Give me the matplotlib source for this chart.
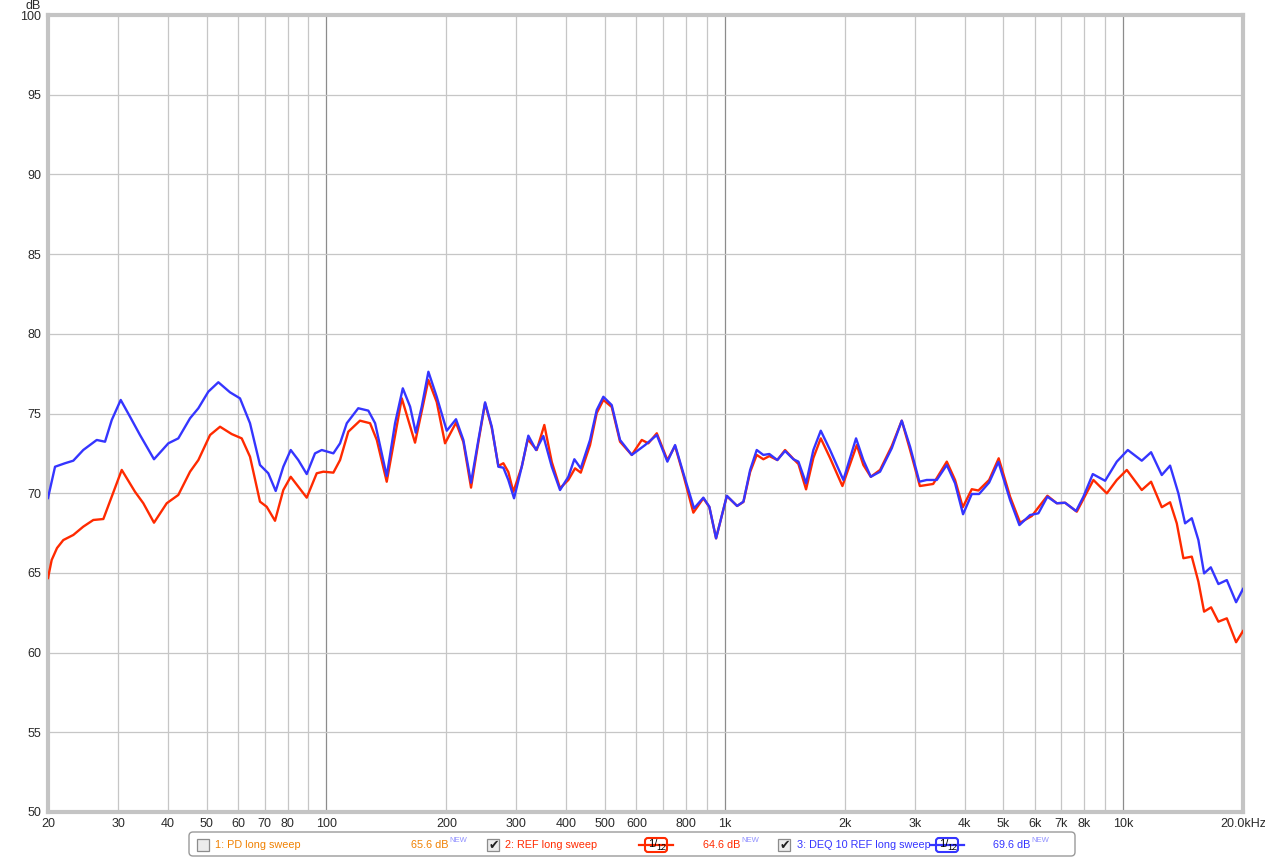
import matplotlib
matplotlib.use("Agg")
import matplotlib.pyplot as plt
from matplotlib.patches import FancyBboxPatch, Rectangle
from matplotlib.ticker import NullLocator

# REW style frequency response, 1/12 octave smoothing
# measurement 1 (PD) is hidden, only 2 and 3 drawn

ref_freq = [20, 20.43, 21.07, 21.85, 23.15, 24.52, 25.99, 27.54, 28.91, 30.63,
            33.07, 34.70, 36.91, 39.73, 42.48, 45.46, 47.70, 51.03, 54.07, 57.84,
            61.28, 64.29, 68.11, 70.80, 74.29, 77.94, 81.35, 85.00, 89.24, 94.55,
            98.23, 104.1, 108.2, 113.5, 121.4, 128.7, 133.8, 141.7, 154.6, 166.9,
            180.3, 189.2, 198.5, 211.5, 220.7, 230.7, 240.7, 250.2, 260.1, 270.2,
            278.1, 286.2, 294.6, 309.3, 320.2, 337.3, 352.4, 367.9, 385.9, 404.9,
            420.9, 435.0, 459.0, 477.1, 495.7, 520.3, 545.9, 584.2, 618.9, 642.9,
            675.1, 717.7, 750.4, 787.3, 834.0, 883.6, 914.8, 951.0, 1012, 1074,
            1114, 1158, 1203, 1250, 1294, 1355, 1417, 1487, 1531, 1600,
            1669, 1742, 1838, 1974, 2145, 2228, 2326, 2454, 2626, 2782,
            2919, 3089, 3336, 3609, 3786, 3959, 4170, 4333, 4610, 4872,
            5204, 5514, 5900, 6456, 6817, 7151, 7652, 8423, 9102, 9643,
            10217, 11140, 11756, 12506, 13121, 13639, 14170, 14875, 15454, 15972,
            16631, 17349, 18212, 19218, 20000]
ref_db = [64.68, 65.81, 66.56, 67.06, 67.38, 67.90, 68.32, 68.38, 69.78, 71.46,
          70.09, 69.37, 68.15, 69.37, 69.89, 71.35, 72.08, 73.65, 74.17, 73.71,
          73.44, 72.29, 69.47, 69.15, 68.27, 70.20, 71.03, 70.41, 69.72, 71.25,
          71.35, 71.29, 72.08, 73.86, 74.55, 74.39, 73.34, 70.72, 75.95, 73.17,
          77.10, 75.72, 73.13, 74.42, 73.21, 70.35, 73.21, 75.64, 74.09, 71.71,
          71.88, 71.33, 70.09, 71.66, 73.38, 72.71, 74.28, 71.96, 70.31, 70.83,
          71.56, 71.29, 73.02, 75.03, 75.85, 75.41, 73.23, 72.40, 73.34, 73.13,
          73.76, 72.08, 72.96, 71.14, 68.78, 69.68, 69.13, 67.17, 69.82, 69.20,
          69.45, 71.33, 72.40, 72.13, 72.33, 72.08, 72.71, 72.15, 71.83, 70.24,
          72.21, 73.44, 72.21, 70.45, 73.02, 71.77, 71.03, 71.46, 72.96, 74.55,
          72.71, 70.45, 70.58, 71.98, 70.83, 69.12, 70.25, 70.17, 70.83, 72.19,
          69.78, 68.15, 68.57, 69.84, 69.37, 69.40, 68.84, 70.83, 69.99, 70.83,
          71.46, 70.20, 70.72, 69.12, 69.43, 68.11, 65.92, 66.02, 64.45, 62.57,
          62.84, 61.94, 62.15, 60.65, 61.35]

deq_freq = [20, 20.83, 22.07, 23.15, 24.52, 26.51, 27.81, 28.91, 30.45, 32.13,
            34.04, 36.91, 40.10, 42.48, 45.46, 47.70, 50.53, 53.54, 57.27, 60.68,
            64.29, 68.11, 71.46, 74.59, 77.94, 81.35, 85.00, 89.24, 93.62, 97.32,
            104.1, 108.2, 112.5, 120.2, 127.4, 132.5, 141.7, 148.7, 155.5, 162.2,
            167.6, 173.5, 180.3, 189.2, 200.5, 211.5, 220.7, 230.7, 240.7, 250.2,
            260.1, 270.2, 278.1, 286.2, 295.8, 309.3, 321.3, 335.9, 350.4, 367.9,
            385.9, 404.9, 419.2, 435.0, 459.0, 477.1, 495.7, 520.3, 545.9, 584.2,
            630.8, 675.1, 717.7, 750.4, 787.3, 837.4, 883.6, 914.8, 951.0, 1012,
            1074, 1114, 1158, 1203, 1250, 1294, 1355, 1417, 1487, 1531,
            1600, 1669, 1742, 1838, 1985, 2136, 2228, 2326, 2454, 2626,
            2782, 2919, 3080, 3214, 3406, 3609, 3786, 3965, 4170, 4350,
            4610, 4864, 5204, 5491, 5842, 6129, 6456, 6817, 7151, 7621,
            7950, 8393, 9012, 9643, 10276, 11140, 11756, 12506, 13121, 13766,
            14310, 14875, 15454, 15972, 16603, 17349, 18212, 19218, 20000]
deq_db = [69.70, 71.66, 71.88, 72.04, 72.71, 73.34, 73.23, 74.59, 75.85, 74.80,
          73.65, 72.13, 73.13, 73.44, 74.70, 75.33, 76.37, 76.96, 76.33, 75.95,
          74.39, 71.77, 71.25, 70.14, 71.66, 72.71, 72.08, 71.20, 72.50, 72.71,
          72.50, 73.13, 74.39, 75.33, 75.18, 74.39, 71.08, 74.39, 76.58, 75.43,
          73.80, 75.43, 77.62, 76.05, 73.92, 74.64, 73.34, 70.66, 73.34, 75.70,
          74.17, 71.66, 71.60, 70.83, 69.68, 71.66, 73.61, 72.71, 73.59, 71.66,
          70.20, 71.03, 72.13, 71.56, 73.34, 75.22, 76.05, 75.53, 73.34, 72.40,
          73.02, 73.65, 71.98, 73.02, 71.25, 69.05, 69.72, 69.15, 67.17, 69.84,
          69.20, 69.47, 71.46, 72.71, 72.40, 72.46, 72.08, 72.65, 72.13, 71.98,
          70.62, 72.71, 73.92, 72.71, 70.83, 73.44, 72.08, 71.03, 71.35, 72.82,
          74.55, 72.92, 70.72, 70.83, 70.83, 71.77, 70.62, 68.68, 69.95, 69.95,
          70.67, 71.96, 69.57, 68.00, 68.63, 68.74, 69.78, 69.37, 69.40, 68.88,
          69.78, 71.20, 70.78, 71.98, 72.71, 72.04, 72.57, 71.14, 71.73, 69.99,
          68.11, 68.43, 67.06, 64.97, 65.35, 64.30, 64.55, 63.16, 63.99]

grid_freqs = [20, 30, 40, 50, 60, 70, 80, 90,
              100, 200, 300, 400, 500, 600, 700, 800, 900,
              1000, 2000, 3000, 4000, 5000, 6000, 7000, 8000, 9000,
              10000, 20000]
x_labels = ["20", "30", "40", "50", "60", "70", "80", "",
            "100", "200", "300", "400", "500", "600", "", "800", "",
            "1k", "2k", "3k", "4k", "5k", "6k", "7k", "8k", "",
            "10k", "20.0kHz"]
decades = [100, 1000, 10000]
db_ticks = [50, 55, 60, 65, 70, 75, 80, 85, 90, 95, 100]

legend_names = ["1: PD long sweep", "2: REF long sweep", "3: DEQ 10 REF long sweep"]
legend_levels = ["65.6 dB", "64.6 dB", "69.6 dB"]
legend_checked = [False, True, True]

RED = "#ff2a00"
BLUE = "#3535ff"
ORANGE = "#f08000"

W, H = 1265, 859
plt.rcParams["font.family"] = ["Liberation Sans", "DejaVu Sans"]
fig = plt.figure(figsize=(W / 100, H / 100), dpi=100)
fig.patch.set_facecolor("white")

ax = fig.add_axes([48 / W, 1 - 812 / H, 1195 / W, 797 / H])
ax.set_xscale("log")
ax.set_xlim(20, 20000)
ax.set_ylim(50, 100)
ax.set_xticks(grid_freqs)
ax.set_xticklabels(x_labels)
ax.xaxis.set_minor_locator(NullLocator())
ax.set_yticks(db_ticks)
ax.tick_params(length=0, labelsize=9, colors="#2a2a2a")
ax.tick_params(axis="x", pad=4)
ax.tick_params(axis="y", pad=5)

for f in grid_freqs[1:-1]:
    c = "#8c8c8c" if f in decades else "#c6c6c6"
    ax.axvline(f, color=c, lw=0.9, zorder=0)
for d in db_ticks[1:-1]:
    ax.axhline(d, color="#c6c6c6", lw=0.9, zorder=0)

for s in ax.spines.values():
    s.set_color("#c4c4c4")
    s.set_linewidth(3)

ax.plot(ref_freq, ref_db, color=RED, lw=1.7, zorder=3, solid_joinstyle="round")
ax.plot(deq_freq, deq_db, color=BLUE, lw=1.7, zorder=4, solid_joinstyle="round")

# overlay in pixel coords for the unit label and the legend strip
ov = fig.add_axes([0, 0, 1, 1], facecolor="none")
ov.set_xlim(0, W)
ov.set_ylim(H, 0)
ov.axis("off")
ov.text(41, 6, "dB", ha="right", va="center", fontsize=9, color="#2a2a2a")

ov.add_patch(FancyBboxPatch((189, 832), 886, 24, boxstyle="round,pad=0,rounding_size=4",
                            facecolor="white", edgecolor="#9a9a9a", lw=1))

def checkbox(x, checked):
    ov.add_patch(Rectangle((x, 839), 12, 12, facecolor="#ececec", edgecolor="#8c8c8c", lw=0.9))
    if checked:
        ov.text(x + 6.5, 845.5, "\u2714", ha="center", va="center", fontsize=9,
                color="#202020", family="DejaVu Sans")

def smooth_box(x0, color):
    ov.plot([x0, x0 + 34], [845, 845], color=color, lw=1.6)
    ov.add_patch(FancyBboxPatch((x0 + 6, 838), 22, 14, boxstyle="round,pad=0,rounding_size=3",
                                facecolor="white", edgecolor=color, lw=1.5))
    ov.text(x0 + 9, 844, "1/", ha="left", va="center", fontsize=8, color="black")
    ov.text(x0 + 17, 847, "12", ha="left", va="center", fontsize=6.5, color="black")

def level(x, txt, color):
    ov.text(x, 845, txt, ha="left", va="center", fontsize=7.8, color=color)
    ov.text(x + 38, 840, "NEW", ha="left", va="center", fontsize=5.5, color="#8f8fff")

colors = [ORANGE, RED, BLUE]
check_x = [197, 487, 778]
name_x = [215, 505, 797]
level_x = [411, 703, 993]
for i in range(3):
    checkbox(check_x[i], legend_checked[i])
    ov.text(name_x[i], 845, legend_names[i], ha="left", va="center", fontsize=7.8, color=colors[i])
    level(level_x[i], legend_levels[i], colors[i])
smooth_box(639, RED)
smooth_box(930, BLUE)

fig.savefig("out.png", dpi=100)
